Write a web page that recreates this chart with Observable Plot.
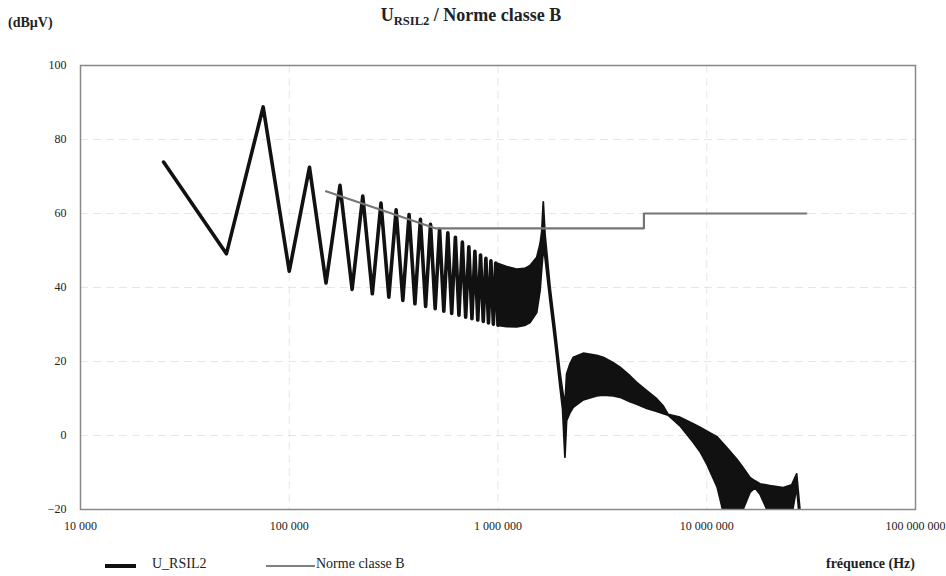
<!DOCTYPE html>
<html>
<head>
<meta charset="utf-8">
<script src="https://cdn.jsdelivr.net/npm/d3@7"></script>
<script src="https://cdn.jsdelivr.net/npm/@observablehq/plot@0.6"></script>
<style>
  html, body { margin: 0; padding: 0; background: #fff; }
  #wrap { position: relative; width: 946px; height: 576px; font-family: "Liberation Serif", "Times New Roman", serif; color: #222; }
  #wrap svg { position: absolute; left: 0; top: 0; }
  .t { position: absolute; white-space: nowrap; }
</style>
</head>
<body>
<div id="wrap">
  <div id="chart"></div>
  <div class="t" style="left:0;width:946px;top:5px;text-align:center;font-size:18px;font-weight:bold;"><span style="position:relative;left:-2px">U<sub style="font-size:70%;vertical-align:-0.3em">RSIL2</sub> / Norme classe B</span></div>
  <div class="t" style="left:8px;top:15px;font-size:14px;font-weight:bold;">(dBµV)</div>
  <div class="t" style="left:105px;top:564px;width:31px;height:4px;background:#111;"></div>
  <div class="t" style="left:152px;top:556px;font-size:14px;">U_RSIL2</div>
  <div class="t" style="left:266px;top:565px;width:49px;height:2px;background:#808080;"></div>
  <div class="t" style="left:316px;top:556px;font-size:14px;">Norme classe B</div>
  <div class="t" style="right:31px;top:556px;font-size:14px;font-weight:bold;">fréquence (Hz)</div>
</div>
<script>
// Harmonic comb (individual lines, 25 kHz spacing)
const zigFreq = [25000, 50000, 75000, 100000, 125000, 150000, 175000, 200000, 225000, 250000,
  275000, 300000, 325000, 350000, 375000, 400000, 425000, 450000, 475000, 500000,
  525000, 550000, 575000, 600000, 625000, 650000, 675000, 700000, 725000, 750000,
  775000, 800000, 825000, 850000, 875000, 900000, 925000, 950000, 975000, 1000000];
const zigLevel = [73.9, 49.1, 88.8, 44.4, 72.5, 41.2, 67.6, 39.5, 64.7, 38.3,
  62.8, 37.4, 61.0, 36.5, 59.7, 35.6, 58.4, 34.9, 57.1, 34.3,
  55.7, 33.6, 54.8, 33.0, 53.6, 32.5, 52.3, 32.0, 51.0, 31.6,
  49.8, 31.2, 48.8, 30.8, 47.9, 30.4, 47.2, 30.1, 46.6, 29.8];

// Dense region: upper (odd harmonics) and lower (even harmonics) envelopes
const bandFreq = [1000000, 1107000, 1236000, 1350000, 1432000, 1541000, 1599000, 1629000, 1657000, 1689000,
  1786000, 1885000, 1992000, 2050000, 2104000, 2143000, 2223000, 2306000, 2576000, 2985000,
  3211000, 3588000, 3862000, 4311000, 4643000, 5187000, 5791000, 6227000, 6560000, 7480000,
  8670000, 9340000, 10090000, 11270000, 12080000, 12570000, 13990000, 14790000, 16200000, 17130000,
  18090000, 20200000, 23380000, 25650000, 27100000, 28300000, 30000000];
const bandHigh = [46.4, 45.5, 44.8, 45.0, 45.8, 48.0, 51.6, 55.0, 63.0, 54.3,
  40.0, 29.0, 17.0, 12.0, 8.0, 16.5, 19.2, 21.0, 22.1, 21.5,
  21.0, 19.5, 18.3, 16.0, 14.2, 12.0, 9.8, 7.8, 5.6, 4.8,
  3.0, 2.1, 1.0, -0.5, -2.4, -3.5, -6.5, -8.3, -11.5, -12.4,
  -13.2, -13.7, -14.2, -13.5, -10.5, -22, -30];
const bandLow = [29.6, 29.3, 29.2, 29.6, 30.4, 33.1, 39.0, 45.0, 50.0, 48.0,
  36.0, 25.0, 13.0, 7.0, -6.0, 3.9, 6.0, 7.5, 9.5, 10.6,
  10.8, 10.6, 10.2, 9.0, 8.3, 7.2, 6.4, 5.8, 5.4, 2.5,
  -2.0, -4.5, -8.0, -14.0, -21.0, -23.0, -25.0, -21.0, -15.5, -14.3,
  -16.0, -22.0, -24.0, -22.0, -14.0, -26, -30];

// Norme classe B
const normFreq = [150000, 500000, 5000000, 5000000, 30000000];
const normLevel = [66, 56, 56, 60, 60];

// Axes
const xTicks = [10000, 100000, 1000000, 10000000, 100000000];
const yTicks = [-20, 0, 20, 40, 60, 80, 100];

const zig = zigFreq.map((f, i) => ({f, v: zigLevel[i]}));
const band = bandFreq.map((f, i) => ({f, hi: bandHigh[i], lo: bandLow[i]}));
const norm = normFreq.map((f, i) => ({f, v: normLevel[i]}));
const xFmt = d => d3.format(",")(d).replace(/,/g, " ");

const chart = Plot.plot({
  width: 946,
  height: 576,
  marginTop: 65,
  marginBottom: 67,
  marginLeft: 80,
  marginRight: 31,
  style: {fontFamily: "Liberation Serif, Times New Roman, serif", fontSize: "12px", color: "#222", background: "transparent"},
  x: {type: "log", domain: [1e4, 1e8], label: null},
  y: {domain: [-20, 100], label: null},
  marks: [
    Plot.gridX(xTicks.slice(1, -1), {stroke: "#e6e6e6", strokeOpacity: 1, strokeDasharray: "8,5"}),
    Plot.gridY(yTicks.slice(1, -1), {stroke: "#e6e6e6", strokeOpacity: 1, strokeDasharray: "8,5"}),
    Plot.areaY(band, {x: "f", y1: "lo", y2: "hi", fill: "#111", stroke: "#111", strokeWidth: 1.8, curve: "linear", clip: true}),
    Plot.line(zig, {x: "f", y: "v", stroke: "#111", strokeWidth: 3.6, strokeLinejoin: "round", clip: true}),
    Plot.line(norm, {x: "f", y: "v", stroke: "#767676", strokeWidth: 2.2}),
    Plot.frame({stroke: "#888", strokeWidth: 1.5}),
    Plot.axisX(xTicks, {tickSize: 0, tickPadding: 12, tickFormat: xFmt, label: null, fontSize: 12}),
    Plot.axisY(yTicks, {tickSize: 0, tickPadding: 14, label: null, fontSize: 12})
  ]
});
document.getElementById("chart").appendChild(chart);
</script>
</body>
</html>
